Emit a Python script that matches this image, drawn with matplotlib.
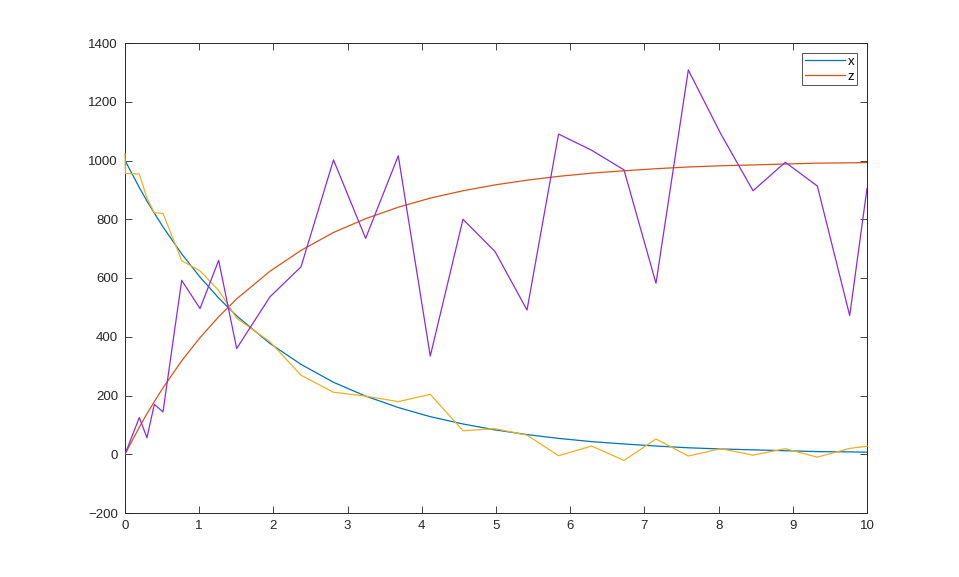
import matplotlib
matplotlib.use("Agg")
import matplotlib.pyplot as plt

# time grid (solver output points)
t = [0, 0.193, 0.296, 0.395, 0.512, 0.764, 1.011, 1.262, 1.505, 1.954, 2.372, 2.81,
     3.243, 3.683, 4.114, 4.555, 4.987, 5.418, 5.843, 6.288, 6.725, 7.156, 7.592,
     8.027, 8.464, 8.899, 9.331, 9.767, 10.0]
x_vals = [1000, 908, 862, 821, 774, 682, 603, 532, 471, 377, 306, 245, 198, 159, 128,
          103, 83, 67, 54, 43, 35, 28, 22, 18, 15, 12, 9, 8, 7]
z_vals = [0, 92, 138, 179, 226, 318, 397, 468, 529, 623, 694, 755, 802, 841, 872,
          897, 917, 933, 946, 957, 965, 972, 978, 982, 985, 988, 991, 992, 993]
t_noisy_x = [0, 0.005] + t[1:]
noisy_x = [1024, 956, 954, 872, 822, 820, 659, 624, 558, 463, 383, 269, 211, 198, 179,
           204, 80, 87, 65, -5, 28, -21, 52, -6, 19, -3, 19, -10, 20, 27]
noisy_z = [0, 125, 56, 170, 144, 592, 496, 660, 360, 536, 638, 1002, 735, 1016, 334,
           800, 690, 491, 1090, 1035, 968, 582, 1308, 1092, 897, 994, 913, 472, 905]
legend_labels = ["x", "z"]

plt.rcParams['font.family'] = ['Liberation Sans', 'DejaVu Sans']
fig = plt.figure(figsize=(9.59, 5.77), dpi=100)
ax = fig.add_axes([125/959, 1-513/577, (867-125)/959, (513-43)/577])

lw = 0.9
l1, = ax.plot(t, x_vals, color='#0072BD', lw=lw, zorder=3)
l2, = ax.plot(t, z_vals, color='#D95319', lw=lw, zorder=3)
ax.plot(t_noisy_x, noisy_x, color='#EDB120', lw=lw, zorder=3, clip_on=False)
ax.plot(t, noisy_z, color='#8A2BE2', lw=lw, zorder=3)

ax.set_xlim(0, 10)
ax.set_ylim(-200, 1400)
ax.set_xticks(range(0, 11))
ax.set_yticks(range(-200, 1401, 200))
ax.tick_params(direction='in', length=5, width=0.6, colors='#262626',
               labelsize=9.5, top=True, right=True, pad=5)
for s in ax.spines.values():
    s.set_linewidth(0.7)
    s.set_color('#262626')

leg = ax.legend([l1, l2], legend_labels, loc='upper right', fontsize=9.5,
                frameon=True, fancybox=False, handlelength=3.0, handletextpad=0.25,
                borderpad=0.2, labelspacing=0.2, borderaxespad=0.75)
leg.get_frame().set_edgecolor('#262626')
leg.get_frame().set_linewidth(0.7)
leg.set_zorder(5)

fig.savefig('out.png', dpi=100)
